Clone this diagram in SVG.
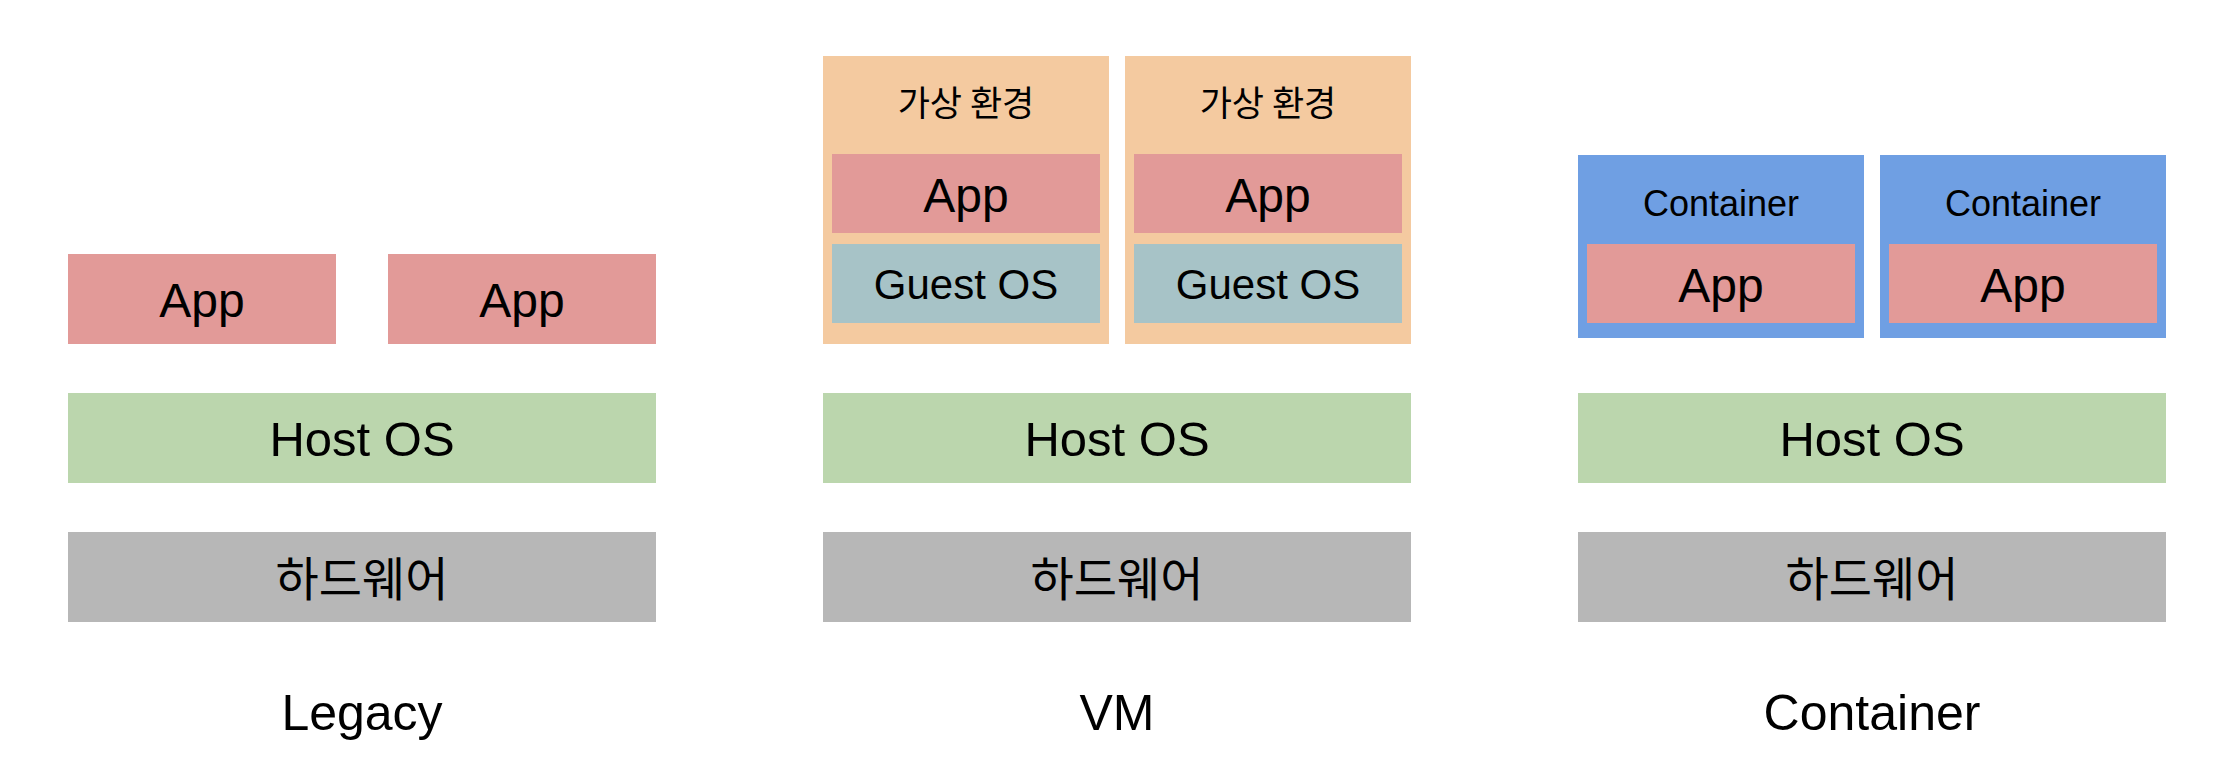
<svg xmlns="http://www.w3.org/2000/svg" width="2240" height="778" viewBox="0 0 2240 778">
<style>
.app{fill:#e29a98}
.host{fill:#bbd6ad}
.hw{fill:#b7b7b7}
.vm{fill:#f4caa0}
.guest{fill:#a7c3c7}
.ctr{fill:#6f9fe3}
text{font-family:"Liberation Sans",Arial,"Noto Sans CJK KR",sans-serif;fill:#000;text-anchor:middle}
.ko{font-family:"Noto Sans CJK KR","Liberation Sans",sans-serif}
.t48{font-size:48px}
.t49{font-size:49px}
.t42{font-size:42px}
.t36{font-size:36px}
.t50{font-size:50px}
.hwt{font-size:47px}
.env{font-size:35px}
</style>
<rect width="2240" height="778" fill="#fff"/>
<g id="legacy">
  <g id="legacy-app1"><rect class="app" x="68" y="254" width="268" height="90"/><text class="t48" x="202" y="317">App</text></g>
  <g id="legacy-app2"><rect class="app" x="388" y="254" width="268" height="90"/><text class="t48" x="522" y="317">App</text></g>
  <g id="legacy-host"><rect class="host" x="68" y="393" width="588" height="90"/><text class="t49" x="362" y="456">Host OS</text></g>
  <g id="legacy-hw"><rect class="hw" x="68" y="532" width="588" height="90"/><text class="ko hwt" x="362" y="596">하드웨어</text></g>
  <g id="legacy-label"><text class="t50" x="362" y="730">Legacy</text></g>
</g>
<g id="vm">
  <g id="vm-env1"><rect class="vm" x="823" y="56" width="286" height="288"/><text class="ko env" x="966" y="116">가상 환경</text>
    <rect class="app" x="832" y="154" width="268" height="79"/><text class="t48" x="966" y="212">App</text>
    <rect class="guest" x="832" y="244" width="268" height="79"/><text class="t42" x="966" y="299">Guest OS</text></g>
  <g id="vm-env2"><rect class="vm" x="1125" y="56" width="286" height="288"/><text class="ko env" x="1268" y="116">가상 환경</text>
    <rect class="app" x="1134" y="154" width="268" height="79"/><text class="t48" x="1268" y="212">App</text>
    <rect class="guest" x="1134" y="244" width="268" height="79"/><text class="t42" x="1268" y="299">Guest OS</text></g>
  <g id="vm-host"><rect class="host" x="823" y="393" width="588" height="90"/><text class="t49" x="1117" y="456">Host OS</text></g>
  <g id="vm-hw"><rect class="hw" x="823" y="532" width="588" height="90"/><text class="ko hwt" x="1117" y="596">하드웨어</text></g>
  <g id="vm-label"><text class="t50" x="1117" y="730">VM</text></g>
</g>
<g id="container">
  <g id="ctr1"><rect class="ctr" x="1578" y="155" width="286" height="183"/><text class="t36" x="1721" y="216">Container</text>
    <rect class="app" x="1587" y="244" width="268" height="79"/><text class="t48" x="1721" y="302">App</text></g>
  <g id="ctr2"><rect class="ctr" x="1880" y="155" width="286" height="183"/><text class="t36" x="2023" y="216">Container</text>
    <rect class="app" x="1889" y="244" width="268" height="79"/><text class="t48" x="2023" y="302">App</text></g>
  <g id="ctr-host"><rect class="host" x="1578" y="393" width="588" height="90"/><text class="t49" x="1872" y="456">Host OS</text></g>
  <g id="ctr-hw"><rect class="hw" x="1578" y="532" width="588" height="90"/><text class="ko hwt" x="1872" y="596">하드웨어</text></g>
  <g id="ctr-label"><text class="t50" x="1872" y="730">Container</text></g>
</g>
<g id="connectors"></g>
</svg>
